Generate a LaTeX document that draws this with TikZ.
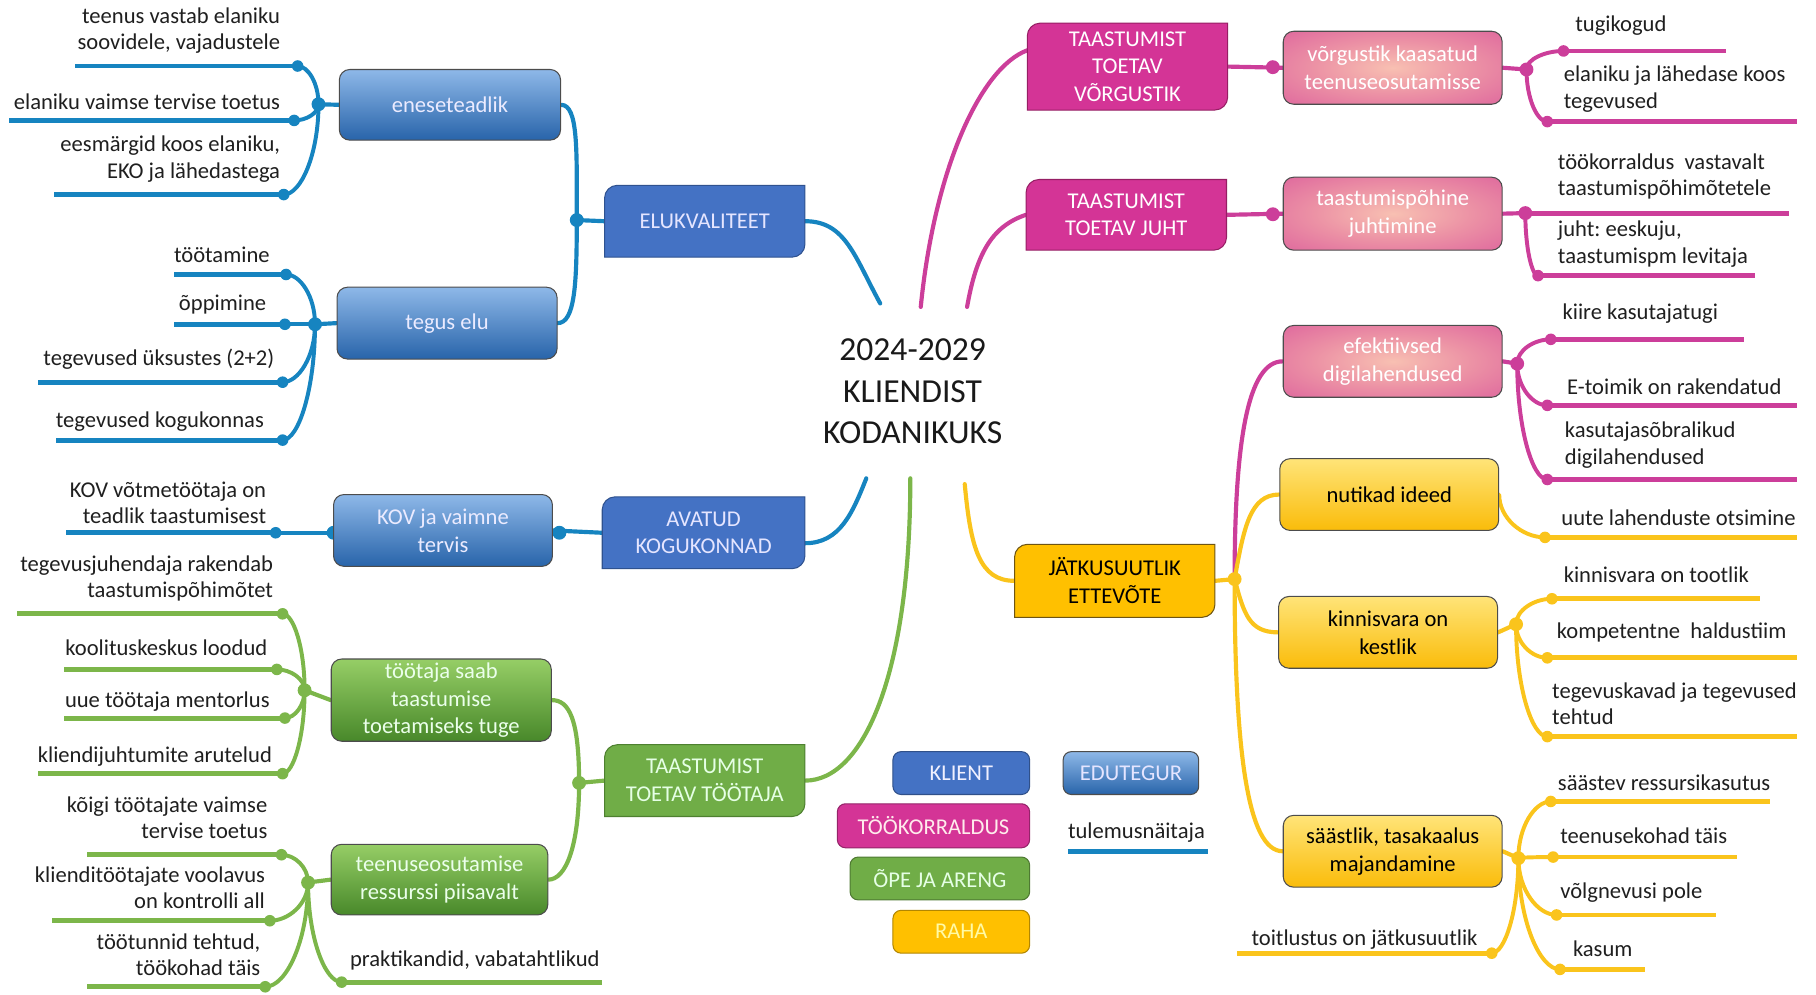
\documentclass[tikz,border=0pt]{standalone}
\usepackage{fontspec}
\setmainfont{Carlito}
\usetikzlibrary{calc,backgrounds}
\definecolor{klientblue}{RGB}{68, 114, 196}
\definecolor{klientline}{RGB}{47, 82, 143}
\definecolor{linkblue}{RGB}{22, 132, 192}
\definecolor{edutop}{RGB}{142, 184, 232}
\definecolor{edubottom}{RGB}{40, 100, 170}
\definecolor{orgpink}{RGB}{212, 52, 150}
\definecolor{orgline}{RGB}{150, 30, 100}
\definecolor{linkpink}{RGB}{204, 62, 154}
\definecolor{pinkcore}{RGB}{248, 192, 178}
\definecolor{pinkmid}{RGB}{236, 146, 165}
\definecolor{pinkedge}{RGB}{220, 96, 156}
\definecolor{pinkrim}{RGB}{185, 78, 100}
\definecolor{learngreen}{RGB}{112, 173, 71}
\definecolor{learnline}{RGB}{78, 128, 48}
\definecolor{linkgreen}{RGB}{124, 182, 74}
\definecolor{greentop}{RGB}{150, 206, 102}
\definecolor{greenbottom}{RGB}{72, 136, 42}
\definecolor{moneygold}{RGB}{255, 192, 0}
\definecolor{moneyline}{RGB}{110, 85, 20}
\definecolor{linkgold}{RGB}{250, 196, 28}
\definecolor{goldtop}{RGB}{255, 228, 120}
\definecolor{goldbottom}{RGB}{250, 188, 10}
\pgfdeclareradialshading{pinkglow}{\pgfpoint{0bp}{0bp}}{color(0bp)=(pinkcore); color(18bp)=(pinkmid); color(40bp)=(pinkedge); color(60bp)=(pinkrim); color(75bp)=(pinkrim)}

\tikzset{
  limb/.style={draw=#1, line width=3.6pt, line cap=round},
  twig/.style={draw=#1, line width=3.4pt, line cap=round},
  branch/.style={draw=#1, line width=4.2pt},
  leaftext/.style={inner sep=0pt, text=black!88, font=\fontsize{19.5}{23}\selectfont},
  lefttext/.style={leaftext, anchor=east, align=right},
  righttext/.style={leaftext, anchor=west, align=left},
  boxtext/.style={inner sep=0pt, align=center, font=\fontsize{19.5}{24}\selectfont},
  bubble/.style={boxtext, rounded corners=9pt, draw=black!70, line width=0.9pt},
  bluebubble/.style={bubble, top color=edutop, bottom color=edubottom, text=white!92!blue},
  greenbubble/.style={bubble, top color=greentop, bottom color=greenbottom, text=green!8!white},
  pinkbubble/.style={bubble, shade, shading=pinkglow, text=white},
  goldbubble/.style={bubble, top color=goldtop, bottom color=goldbottom, text=black},
  legend/.style={boxtext, rounded corners=7pt, draw=#1!70!black, fill=#1, line width=0.9pt},
  clientbox/.style={fill=klientblue, draw=klientline, line width=0.9pt},
  orgbox/.style={fill=orgpink, draw=orgline, line width=0.9pt},
  learnbox/.style={fill=learngreen, draw=learnline, line width=0.9pt},
  moneybox/.style={fill=moneygold, draw=moneyline, line width=0.9pt},
}

% box with two rounded corners (top left, bottom right)
\newcommand{\flatbox}[7]{%
  \coordinate (#1-c) at #2;
  \filldraw[#5] ($(#1-c)+(-#3/2,#4/2)$) -- ($(#1-c)+(-#3/2,-#4/2+11)$)
     .. controls +(0,-6) and +(-6,0) .. ($(#1-c)+(-#3/2+11,-#4/2)$)
     -- ($(#1-c)+(#3/2,-#4/2)$) -- ($(#1-c)+(#3/2,#4/2-11)$)
     .. controls +(0,6) and +(6,0) .. ($(#1-c)+(#3/2-11,#4/2)$) -- cycle;
  \node[boxtext, #6, minimum width=#3pt, minimum height=#4pt] (#1) at (#1-c) {#7};}

% leaf: colour, hub, name, dot, line end, text style, text position, text
\newcommand{\leaf}[8]{%
  \coordinate (#3) at #4;
  \coordinate (#3-end) at #5;
  \draw[twig=#1] (#2) .. controls ($(#2)!0.55!(#2|-#3)$) and ($(#3)!0.5!(#2|-#3)$) .. (#3);
  \draw[branch=#1] (#3) -- (#3-end);
  \fill[#1] (#3) circle (5);
  \node[#6] (#3-txt) at #7 {#8};}

\begin{document}
\begin{tikzpicture}[x=1pt, y=-1pt]
  \useasboundingbox (0,0) rectangle (1568,859);

  \node[align=center, text=black!90, font=\fontsize{29}{36}\selectfont] (title) at (788,338) {2024-2029\\KLIENDIST\\KODANIKUKS};

  % main boxes
  \flatbox{elu}{(608.5,191)}{173}{62}{clientbox}{text=white!90!blue}{ELUKVALITEET}
  \flatbox{avatud}{(607.5,460)}{175}{62}{clientbox}{text=white!90!blue}{AVATUD\\KOGUKONNAD}
  \flatbox{ttt}{(608.5,674)}{173}{62}{learnbox}{text=green!10!white}{TAASTUMIST\\TOETAV TÖÖTAJA}
  \flatbox{ttv}{(973.5,57.5)}{173}{75}{orgbox}{text=white}{TAASTUMIST\\TOETAV\\VÕRGUSTIK}
  \flatbox{ttj}{(972.5,185.5)}{173}{61}{orgbox}{text=white}{TAASTUMIST\\TOETAV JUHT}
  \flatbox{jatk}{(962.5,501.5)}{173}{63}{moneybox}{text=black}{JÄTKUSUUTLIK\\ETTEVÕTE}

  % second level
  \node[bluebubble, minimum width=191pt, minimum height=61pt] (enese) at (388.5,90.5) {eneseteadlik};
  \node[bluebubble, minimum width=190pt, minimum height=62pt] (tegus) at (386,279) {tegus elu};
  \node[bluebubble, minimum width=189pt, minimum height=62pt] (kov) at (382.5,458) {KOV ja vaimne\\tervis};
  \node[greenbubble, minimum width=190pt, minimum height=71pt] (saab) at (381,604.5) {töötaja saab\\taastumise\\toetamiseks tuge};
  \node[greenbubble, minimum width=187pt, minimum height=61pt] (teen) at (379.5,759.5) {teenuseosutamise\\ressurssi piisavalt};
  \node[pinkbubble, minimum width=189pt, minimum height=63pt] (vk) at (1202.5,58.5) {võrgustik kaasatud\\teenuseosutamisse};
  \node[pinkbubble, minimum width=189pt, minimum height=63pt] (tp) at (1202.5,184.5) {taastumispõhine\\juhtimine};
  \node[pinkbubble, minimum width=189pt, minimum height=62pt] (efek) at (1202.5,312) {efektiivsed\\digilahendused};
  \node[goldbubble, minimum width=189pt, minimum height=62pt] (nutik) at (1199.5,427) {nutikad ideed};
  \node[goldbubble, minimum width=189pt, minimum height=62pt] (kinn) at (1198.5,546) {kinnisvara on\\kestlik};
  \node[goldbubble, minimum width=189pt, minimum height=62pt] (saast) at (1202.5,735) {säästlik, tasakaalus\\majandamine};

  % legend
  \node[legend=klientblue, text=white!94!blue, minimum width=118pt, minimum height=37pt] (klient) at (830,667.5) {KLIENT};
  \node[bubble, rounded corners=7pt, top color=edutop, bottom color=edubottom, text=white!90!blue, minimum width=117pt, minimum height=37pt] (edu) at (976.5,667.5) {EDUTEGUR};
  \node[legend=orgpink, text=pink!30!white, minimum width=166pt, minimum height=38pt] (tookorr) at (806,713) {TÖÖKORRALDUS};
  \node[legend=learngreen, text=green!10!white, minimum width=155pt, minimum height=37pt] (ope) at (811.5,758.5) {ÕPE JA ARENG};
  \node[legend=moneygold, text=yellow!35!white, minimum width=118pt, minimum height=37pt] (raha) at (830,804.5) {RAHA};
  \node[leaftext, anchor=west] (tulemus) at (922,719) {tulemusnäitaja};
  \coordinate (tul-a) at (922,735);
  \coordinate (tul-b) at (1043,735);
  \draw[branch=linkblue] (tul-a) -- (tul-b);

  % hubs
  \coordinate (h-enese) at (275,90);
  \coordinate (h-elu) at (498,190);
  \coordinate (h-tegus) at (272,280);
  \coordinate (h-kov) at (288,460);
  \coordinate (h-av) at (483,460);
  \coordinate (h-saab) at (263,596);
  \coordinate (h-ttt) at (500,676);
  \coordinate (h-teen) at (266,762);
  \coordinate (h-vkL) at (1099,58);
  \coordinate (h-vk) at (1318,60);
  \coordinate (h-tpL) at (1099,185);
  \coordinate (h-tp) at (1317,184);
  \coordinate (h-efek) at (1310,314);
  \coordinate (h-jatk) at (1066,500);
  \coordinate (h-kinn) at (1309,539);
  \coordinate (h-saast) at (1311,741);
  % ends near the title
  \coordinate (c-elu) at (760,262);
  \coordinate (c-ttv) at (795,265);
  \coordinate (c-ttj) at (835,265);
  \coordinate (c-av) at (748,413);
  \coordinate (c-ttt) at (786,413);
  \coordinate (c-jatk) at (833,418);

  \begin{scope}[on background layer]
    % from the title
    \draw[limb=linkblue] (elu.east) .. controls +(35,0) and +(-22,-40) .. (c-elu);
    \draw[limb=linkblue] ([yshift=-9pt]avatud.east) .. controls +(30,0) and +(-12,30) .. (c-av);
    \draw[limb=linkgreen] (ttt.east) .. controls +(50,0) and +(0,170) .. (c-ttt);
    \draw[limb=linkpink] (c-ttv) .. controls +(12,-120) and +(-40,15) .. ([yshift=14pt]ttv.west);
    \draw[limb=linkpink] (c-ttj) .. controls +(8,-45) and +(-30,10) .. (ttj.west);
    \draw[limb=linkgold] (c-jatk) .. controls +(5,55) and +(-30,0) .. (jatk.west);

    % KLIENT
    \draw[limb=linkblue] (elu.west) -- (h-elu);
    \draw[limb=linkblue] (h-elu) .. controls +(0,-60) and +(15,0) .. (enese.east);
    \draw[limb=linkblue] (h-elu) .. controls +(0,55) and +(15,0) .. (tegus.east);
    \draw[limb=linkblue] (enese.west) -- (h-enese);
    \draw[limb=linkblue] (tegus.west) -- (h-tegus);
    \draw[limb=linkblue] (kov.east) -- (avatud.west);
    \draw[limb=linkblue] (kov.west) -- (h-kov);
    \foreach \h in {h-elu, h-enese, h-tegus, h-kov, h-av} \fill[linkblue] (\h) circle (6);
    \leaf{linkblue}{h-enese}{e1}{(257,57)}{(65,57)}{lefttext}{(242,26.5)}{teenus vastab elaniku\\soovidele, vajadustele}
    \leaf{linkblue}{h-enese}{e2}{(254,104)}{(8,104)}{lefttext}{(242,88)}{elaniku vaimse tervise toetus}
    \leaf{linkblue}{h-enese}{e3}{(245,168)}{(47,168)}{lefttext}{(242,137.5)}{eesmärgid koos elaniku,\\EKO ja lähedastega}
    \leaf{linkblue}{h-tegus}{t1}{(247,237)}{(150,237)}{lefttext}{(233,220)}{töötamine}
    \leaf{linkblue}{h-tegus}{t2}{(246,280)}{(150,280)}{lefttext}{(230,263)}{õppimine}
    \leaf{linkblue}{h-tegus}{t3}{(244,330)}{(33,330)}{lefttext}{(237,310)}{tegevused üksustes (2+2)}
    \leaf{linkblue}{h-tegus}{t4}{(244,380)}{(48,380)}{lefttext}{(228,364)}{tegevused kogukonnas}
    \leaf{linkblue}{h-kov}{k0}{(238,460)}{(57,460)}{lefttext}{(230,434)}{KOV võtmetöötaja on\\teadlik taastumisest}

    % ÕPE JA ARENG
    \draw[limb=linkgreen] (ttt.west) -- (h-ttt);
    \draw[limb=linkgreen] (h-ttt) .. controls +(0,-55) and +(15,0) .. (saab.east);
    \draw[limb=linkgreen] (h-ttt) .. controls +(0,55) and +(15,0) .. (teen.east);
    \draw[limb=linkgreen] (saab.west) -- (h-saab);
    \draw[limb=linkgreen] (teen.west) -- (h-teen);
    \foreach \h in {h-ttt, h-saab, h-teen} \fill[linkgreen] (\h) circle (6);
    \leaf{linkgreen}{h-saab}{s1}{(244,530)}{(15,530)}{lefttext}{(236,499.5)}{tegevusjuhendaja rakendab\\taastumispõhimõtet}
    \leaf{linkgreen}{h-saab}{s2}{(239,578)}{(55,578)}{lefttext}{(231,559)}{koolituskeskus loodud}
    \leaf{linkgreen}{h-saab}{s3}{(246,620)}{(55,620)}{lefttext}{(233,606)}{uue töötaja mentorlus}
    \leaf{linkgreen}{h-saab}{s4}{(244,668)}{(33,668)}{lefttext}{(235,653)}{kliendijuhtumite arutelud}
    \leaf{linkgreen}{h-teen}{r1}{(243,738)}{(75,738)}{lefttext}{(231,706)}{kõigi töötajate vaimse\\tervise toetus}
    \leaf{linkgreen}{h-teen}{r2}{(233,795)}{(45,795)}{lefttext}{(229,766.5)}{klienditöötajate voolavus\\on kontrolli all}
    \leaf{linkgreen}{h-teen}{r3}{(229,852)}{(75,852)}{lefttext}{(225,824.5)}{töötunnid tehtud,\\töökohad täis}
    \leaf{linkgreen}{h-teen}{r4}{(295,848)}{(520,848)}{righttext}{(302,829)}{praktikandid, vabatahtlikud}

    % TÖÖKORRALDUS
    \draw[limb=linkpink] (ttv.east) -- (vk.west);
    \draw[limb=linkpink] (ttj.east) -- (tp.west);
    \draw[limb=linkpink] (vk.east) -- (h-vk);
    \draw[limb=linkpink] (tp.east) -- (h-tp);
    \draw[limb=linkpink] (efek.east) -- (h-efek);
    \draw[limb=linkpink] (h-jatk) .. controls +(0,-120) and +(-30,0) .. (efek.west);
    \foreach \h in {h-vkL, h-vk, h-tpL, h-tp, h-efek} \fill[linkpink] (\h) circle (6);
    \leaf{linkpink}{h-vk}{v1}{(1350,44)}{(1490,44)}{righttext}{(1360,22)}{tugikogud}
    \leaf{linkpink}{h-vk}{v2}{(1336,105)}{(1552,105)}{righttext}{(1350,77)}{elaniku ja lähedase koos\\tegevused}
    \leaf{linkpink}{h-tp}{p1}{(1317,184)}{(1545,184)}{righttext}{(1345,152.5)}{töökorraldus\ \ vastavalt\\taastumispõhimõtetele}
    \leaf{linkpink}{h-tp}{p2}{(1328,238)}{(1515,238)}{righttext}{(1345,210.5)}{juht:\ eeskuju,\\taastumispm levitaja}
    \leaf{linkpink}{h-efek}{f1}{(1339,293)}{(1506,293)}{righttext}{(1349,271)}{kiire kasutajatugi}
    \leaf{linkpink}{h-efek}{f2}{(1336,350)}{(1552,350)}{righttext}{(1353,334)}{E-toimik on rakendatud}
    \leaf{linkpink}{h-efek}{f3}{(1336,414)}{(1552,414)}{righttext}{(1351,384.5)}{kasutajasõbralikud\\digilahendused}

    % RAHA
    \draw[limb=linkgold] (jatk.east) -- (h-jatk);
    \draw[limb=linkgold] (h-jatk) .. controls +(8,-45) and +(-25,0) .. (nutik.west);
    \draw[limb=linkgold] (h-jatk) .. controls +(8,30) and +(-25,0) .. (kinn.west);
    \draw[limb=linkgold] (h-jatk) .. controls +(0,150) and +(-30,0) .. (saast.west);
    \draw[limb=linkgold] (kinn.east) -- (h-kinn);
    \draw[limb=linkgold] (saast.east) -- (h-saast);
    \foreach \h in {h-jatk, h-kinn, h-saast} \fill[linkgold] (\h) circle (6);
    \leaf{linkgold}{nutik.east}{n1}{(1334,464)}{(1552,464)}{righttext}{(1348,447)}{uute lahenduste otsimine}
    \leaf{linkgold}{h-kinn}{k1}{(1340,517)}{(1520,517)}{righttext}{(1350,496)}{kinnisvara on tootlik}
    \leaf{linkgold}{h-kinn}{k2}{(1336,568)}{(1552,568)}{righttext}{(1344,546)}{kompetentne\ \ haldustiim}
    \leaf{linkgold}{h-kinn}{k3}{(1336,636)}{(1552,636)}{righttext}{(1340,607.5)}{tegevuskavad ja tegevused\\tehtud}
    \leaf{linkgold}{h-saast}{a1}{(1339,692)}{(1528,692)}{righttext}{(1345,676)}{säästev ressursikasutus}
    \leaf{linkgold}{h-saast}{a2}{(1341,740)}{(1500,740)}{righttext}{(1347,722)}{teenusekohad täis}
    \leaf{linkgold}{h-saast}{a3}{(1344,790)}{(1482,790)}{righttext}{(1347,771)}{võlgnevusi pole}
    \leaf{linkgold}{h-saast}{a4}{(1347,837)}{(1420,837)}{righttext}{(1358,819)}{kasum}
    \leaf{linkgold}{h-saast}{a5}{(1288,823)}{(1068,823)}{lefttext}{(1276,811)}{toitlustus on jätkusuutlik}
  \end{scope}
\end{tikzpicture}
\end{document}
